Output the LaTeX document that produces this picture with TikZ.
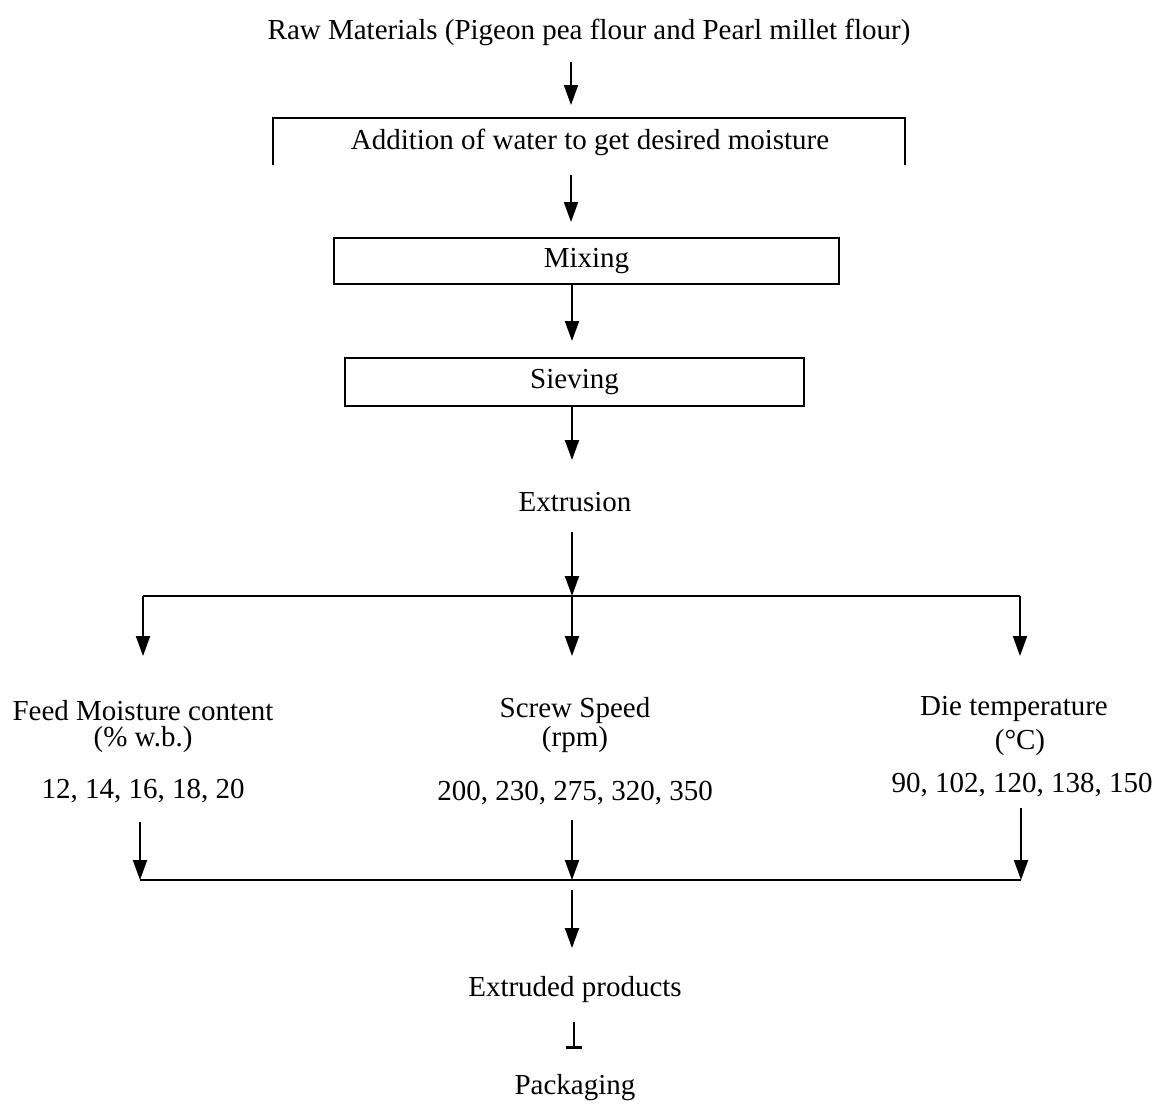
\documentclass[tikz,border=0pt]{standalone}
\usepackage{fontspec}
\setmainfont{Liberation Serif}
\usetikzlibrary{arrows.meta}
\begin{document}
\begin{tikzpicture}[x=0.5pt,y=-0.5pt,
  txt/.style={font=\fontsize{14.5}{16}\selectfont, inner sep=0pt},
  box/.style={txt, draw, line width=0.6pt},
  arr/.style={line width=1pt,-{Triangle[width=7pt,length=10pt]}},
  ln/.style={line width=1pt},
  boxln/.style={line width=0.6pt}]
\useasboundingbox (0,0) rectangle (1160,1104);

% text nodes
\node[txt] (raw) at (589,32) {Raw Materials (Pigeon pea flour and Pearl millet flour)};
\node[txt] (add) at (590,142) {Addition of water to get desired moisture};
\node[box, minimum width=252.5pt, minimum height=23pt] (mix) at (586.5,261) {Mixing};
\node[box, minimum width=229.5pt, minimum height=24pt] (siev) at (574.5,382) {Sieving};
\node[txt] (extr) at (575,502) {Extrusion};

\node[txt] (feed) at (143,711) {Feed Moisture content};
\node[txt] (feedu) at (143,740) {(\% w.b.)};
\node[txt] (feedv) at (143,791) {12, 14, 16, 18, 20};

\node[txt] (scr) at (575,711) {Screw Speed};
\node[txt] (scru) at (575,740) {(rpm)};
\node[txt] (scrv) at (575,793) {200, 230, 275, 320, 350};

\node[txt] (die) at (1014,709) {Die temperature};
\node[txt] (dieu) at (1020,743) {(°C)};
\node[txt] (diev) at (1022,785) {90, 102, 120, 138, 150};

\node[txt] (prod) at (575,990) {Extruded products};
\node[txt] (pack) at (575,1088) {Packaging};

% bracket around addition
\draw[boxln] (273,165) -- (273,118) -- (905,118) -- (905,165);

% coordinates
\coordinate (a1s) at (571,62);   \coordinate (a1e) at (571,105);
\coordinate (a2s) at (571,175);  \coordinate (a2e) at (571,222);
\coordinate (a3e) at (572,341);
\coordinate (a4e) at (572,460);
\coordinate (a5s) at (572,532);  \coordinate (s1) at (572,596);
\coordinate (sl) at (143,596);   \coordinate (sr) at (1020,596);
\coordinate (bl) at (143,656);   \coordinate (bm) at (572,656);  \coordinate (br) at (1020,656);
\coordinate (cl) at (140,822);   \coordinate (cm) at (572,820);  \coordinate (cr) at (1021,808);
\coordinate (jl) at (140,880);   \coordinate (jm) at (572,880);  \coordinate (jr) at (1021,880);
\coordinate (d1s) at (572,890);  \coordinate (d1e) at (572,948);
\coordinate (p1s) at (574,1022); \coordinate (p1e) at (574,1047);

% arrows
\draw[arr] (a1s) -- (a1e);
\draw[arr] (a2s) -- (a2e);
\draw[arr] (mix.south -| a3e) -- (a3e);
\draw[arr] (siev.south -| a4e) -- (a4e);
\draw[arr] (a5s) -- (s1);
\draw[ln] (sl) -- (sr);
\draw[arr] (sl) -- (bl);
\draw[arr] (s1) -- (bm);
\draw[arr] (sr) -- (br);
\draw[arr] (cl) -- (jl);
\draw[arr] (cm) -- (jm);
\draw[arr] (cr) -- (jr);
\draw[ln] (jl) -- (jr);
\draw[arr] (d1s) -- (d1e);
\draw[ln] (p1s) -- (p1e);
\draw[line width=1.5pt] ([xshift=-4pt]p1e) -- ([xshift=4pt]p1e);
\end{tikzpicture}
\end{document}
